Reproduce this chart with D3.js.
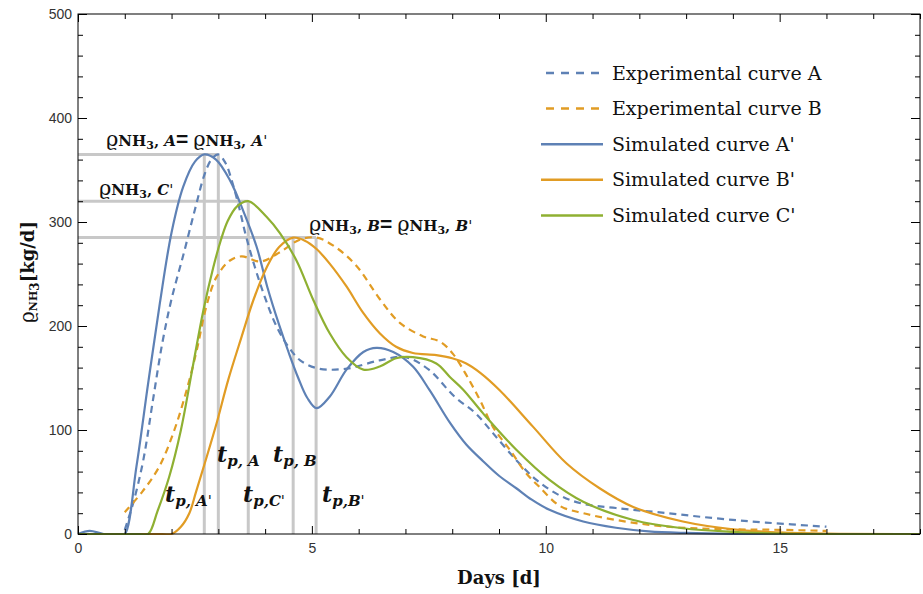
<!DOCTYPE html>
<html><head><meta charset="utf-8">
<script src="https://cdn.jsdelivr.net/npm/d3@7"></script>
<style>body{margin:0;background:#fff} svg{display:block}</style>
</head><body>
<svg id="chart" width="923" height="594"></svg>
<script>
// ---------- data ----------
const xMajorTicks = [0, 5, 10, 15];
const yMajorTicks = [0, 100, 200, 300, 400, 500];

const expA = [[1.0,4],[1.2,33],[1.4,72],[1.6,128],[1.8,183],[2.0,226],[2.25,268],[2.5,312],[2.7,345],[2.85,360],[3.0,365],[3.15,357],[3.3,338],[3.45,313],[3.6,285],[3.9,240],[4.25,199],[4.5,180],[4.75,167],[5.15,159],[5.75,159],[6.45,167],[7.0,170],[7.5,158],[8.05,132],[8.5,116],[8.87,97],[9.37,71],[9.8,52],[10.3,37],[10.8,29],[11.5,25],[12.6,20],[13.65,15],[14.7,11],[16.0,7]];
const expB = [[1.0,21],[1.38,41],[1.74,65],[2.06,100],[2.32,138],[2.54,177],[2.75,220],[2.96,247],[3.25,263],[3.5,267],[3.9,262],[4.32,271],[4.74,283],[5.1,285],[5.5,276],[5.95,258],[6.45,226],[6.88,203],[7.38,190],[7.74,185],[8.02,173],[8.3,153],[8.59,129],[8.87,103],[9.23,81],[9.59,58],[9.87,45],[10.3,27],[10.8,20],[11.5,13.5],[12.6,7],[14.0,4.5],[15.0,4],[16.0,3]];
const simA = [[0,0],[0.25,3],[0.55,0],[0.9,0],[1.0,0],[1.25,65],[1.5,145],[1.75,222],[2.0,290],[2.25,334],[2.5,358],[2.7,365],[2.95,360],[3.25,340],[3.53,311],[3.82,276],[4.05,237],[4.3,201],[4.5,175],[4.7,151],[4.9,131],[5.1,121],[5.38,132],[5.74,158],[6.1,175],[6.38,179],[6.74,175],[7.16,161],[7.52,138],[7.95,107],[8.3,86],[8.66,70],[9.0,56],[9.37,44],[9.7,33],[10.09,23],[10.8,12],[11.5,6],[12.2,2.5],[13.0,1],[14.0,0.2],[18.0,0]];
const simB = [[0,0],[1.8,0],[2.0,0],[2.2,7],[2.38,20],[2.52,40],[2.71,68],[2.96,106],[3.21,148],[3.5,190],[3.75,225],[4.03,256],[4.3,276],[4.6,285],[4.85,282],[5.1,274],[5.38,260],[5.74,238],[6.09,213],[6.45,193],[6.8,180],[7.16,174],[7.66,172],[8.0,169],[8.3,164],[8.6,155],[9.02,138],[9.73,103],[10.44,68],[11.15,44],[11.87,26],[12.93,12],[14.0,4.5],[15.0,1.5],[16.0,0.3],[18.0,0]];
const simC = [[0,0],[1.3,0],[1.5,0],[1.7,22],[1.95,55],[2.2,100],[2.45,160],[2.68,215],[2.89,256],[3.05,282],[3.2,301],[3.4,315],[3.64,320],[4.03,305],[4.32,289],[4.67,263],[5.03,225],[5.38,193],[5.74,170],[6.1,158],[6.45,161],[6.8,169],[7.16,170],[7.66,164],[7.95,151],[8.23,139],[8.66,116],[9.37,81],[10.08,52],[10.8,31],[11.87,13.5],[12.93,5.5],[14.0,2],[15.0,0.5],[18.0,0]];

const seriesNames = ["Experimental curve A", "Experimental curve B", "Simulated curve A'", "Simulated curve B'", "Simulated curve C'"];
const seriesData = [expA, expB, simA, simB, simC];
const seriesColors = ["#5E81B5", "#E19C24", "#5E81B5", "#E19C24", "#8FB032"];
const seriesDashed = [true, true, false, false, false];

// peak reference values: [time of peak, peak value]
const peakTimes = [2.7, 3.0, 3.64, 4.6, 5.09];
const peakValues = [365, 365, 320, 285, 285];

// ---------- chart ----------
const svg = d3.select("#chart");
const x = d3.scaleLinear().domain([0, 18]).range([78, 920]);
const y = d3.scaleLinear().domain([0, 500]).range([534, 14]);

const serif = "'DejaVu Serif', 'Liberation Serif', serif";
const sans = "'Liberation Sans', Arial, sans-serif";

// reference grey lines
const refG = svg.append("g").attr("stroke", "#C8C8C8").attr("stroke-width", 3).attr("fill", "none");
const levels = Array.from(new Set(peakValues));
levels.forEach(v => {
  const tMax = d3.max(peakTimes.filter((t, i) => peakValues[i] === v));
  refG.append("line").attr("x1", x(0)).attr("x2", x(tMax)).attr("y1", y(v)).attr("y2", y(v));
});
peakTimes.forEach((t, i) => {
  refG.append("line").attr("x1", x(t)).attr("x2", x(t)).attr("y1", y(peakValues[i])).attr("y2", y(0));
});

// curves
const line = d3.line().x(d => x(d[0])).y(d => y(d[1])).curve(d3.curveCatmullRom.alpha(0.5));
svg.append("clipPath").attr("id", "clip").append("rect")
  .attr("x", x(0)).attr("y", y(500)).attr("width", x(18) - x(0)).attr("height", y(0) - y(500) + 1);
const curvesG = svg.append("g").attr("clip-path", "url(#clip)");
seriesData.forEach((d, i) => {
  curvesG.append("path").datum(d).attr("d", line)
    .attr("fill", "none").attr("stroke", seriesColors[i]).attr("stroke-width", 2.2)
    .attr("stroke-dasharray", seriesDashed[i] ? "7,5" : null);
});

// axes (ticks inside frame)
function styleAxis(g) {
  g.select(".domain").remove();
  g.selectAll(".tick line").attr("stroke", "#000").attr("stroke-width", 1);
  g.selectAll(".tick text").attr("font-family", sans).attr("font-size", 14).attr("fill", "#333");
}
const xMinor = d3.range(0, 19, 1).filter(v => !xMajorTicks.includes(v));
const yMinor = d3.range(0, 501, 20).filter(v => !yMajorTicks.includes(v));

svg.append("g").attr("transform", `translate(0,${y(0)})`)
  .call(d3.axisBottom(x).tickValues(xMinor).tickSize(-5).tickFormat(""))
  .call(styleAxis);
svg.append("g").attr("transform", `translate(0,${y(0)})`)
  .call(d3.axisBottom(x).tickValues(xMajorTicks).tickSize(-8).tickPadding(9).tickFormat(d3.format("d")))
  .call(styleAxis);
svg.append("g").attr("transform", `translate(0,${y(500)})`)
  .call(d3.axisTop(x).tickValues(xMinor).tickSize(-5).tickFormat(""))
  .call(styleAxis);
svg.append("g").attr("transform", `translate(0,${y(500)})`)
  .call(d3.axisTop(x).tickValues(xMajorTicks).tickSize(-8).tickFormat(""))
  .call(styleAxis);

svg.append("g").attr("transform", `translate(${x(0)},0)`)
  .call(d3.axisLeft(y).tickValues(yMinor).tickSize(-5).tickFormat(""))
  .call(styleAxis);
svg.append("g").attr("transform", `translate(${x(0)},0)`)
  .call(d3.axisLeft(y).tickValues(yMajorTicks).tickSize(-9).tickPadding(6).tickFormat(d3.format("d")))
  .call(styleAxis);
svg.append("g").attr("transform", `translate(${x(18)},0)`)
  .call(d3.axisRight(y).tickValues(yMinor).tickSize(-5).tickFormat(""))
  .call(styleAxis);
svg.append("g").attr("transform", `translate(${x(18)},0)`)
  .call(d3.axisRight(y).tickValues(yMajorTicks).tickSize(-9).tickFormat(""))
  .call(styleAxis);

// frame
svg.append("rect").attr("x", x(0)).attr("y", y(500)).attr("width", x(18) - x(0)).attr("height", y(0) - y(500))
  .attr("fill", "none").attr("stroke", "#000").attr("stroke-width", 1);

// rich text helper
function rich(parent, px, py, segs, anchor) {
  const t = parent.append("text").attr("x", px).attr("y", py)
    .attr("font-family", serif).attr("font-weight", "bold").attr("fill", "#111")
    .attr("text-anchor", anchor || "start");
  let prevShift = 0;
  segs.forEach(s => {
    const shift = s.shift || 0;
    const ts = t.append("tspan").text(s.t).attr("font-size", s.size)
      .attr("dy", shift - prevShift);
    if (s.italic) ts.attr("font-style", "italic");
    if (s.normal) ts.attr("font-weight", "normal");
    if (s.family) ts.attr("font-family", s.family);
    prevShift = shift;
  });
  return t;
}
function rhoSegs(sub, prime) {
  const segs = [
    { t: "ϱ", size: 21, normal: true },
    { t: "NH", size: 15 },
    { t: "3", size: 11, shift: 3 },
    { t: ", ", size: 15, shift: 0 },
    { t: sub, size: 15, italic: true }
  ];
  if (prime) segs.push({ t: "'", size: 15, normal: true });
  return segs;
}
const eq = { t: "=", size: 21, family: sans };
const annG = svg.append("g");
rich(annG, 106, 146, [...rhoSegs("A"), eq, { t: " ", size: 14 }, ...rhoSegs("A", true)]);
rich(annG, 99, 195, rhoSegs("C", true));
rich(annG, 309, 231, [...rhoSegs("B"), eq, { t: " ", size: 14 }, ...rhoSegs("B", true)]);

function tpSegs(sub, prime, comma) {
  const segs = [
    { t: "t", size: 22, italic: true },
    { t: "p" + (comma ? ", " : ","), size: 15, italic: true, shift: 4 },
    { t: sub, size: 15, italic: true, shift: 4 }
  ];
  if (prime) segs.push({ t: "'", size: 15, normal: true, shift: 4 });
  return segs;
}
rich(annG, 217, 462, tpSegs("A", false, true));
rich(annG, 273, 462, tpSegs("B", false, true));
rich(annG, 165, 502, tpSegs("A", true, true));
rich(annG, 243, 502, tpSegs("C", true, false));
rich(annG, 322, 502, tpSegs("B", true, false));

// axis titles
rich(svg, x(9), 584, [{ t: "Days [d]", size: 18 }], "middle");
const yl = svg.append("g").attr("transform", "translate(34,272) rotate(-90)");
rich(yl, 0, 0, [
  { t: "ϱ", size: 20, normal: true },
  { t: "NH", size: 11, shift: 3 },
  { t: "3", size: 12, shift: 5 },
  { t: "[kg/d]", size: 18, shift: 0 }
], "middle");

// legend
const legG = svg.append("g");
const legY0 = 73, legDy = 35.6;
seriesNames.forEach((name, i) => {
  const ly = legY0 + i * legDy;
  legG.append("line")
    .attr("x1", seriesDashed[i] ? 546 : 541).attr("x2", seriesDashed[i] ? 601 : 603)
    .attr("y1", ly).attr("y2", ly)
    .attr("stroke", seriesColors[i]).attr("stroke-width", 2.5)
    .attr("stroke-dasharray", seriesDashed[i] ? "8,7" : null);
  legG.append("text").attr("x", 612).attr("y", ly + 6.5)
    .attr("font-family", serif).attr("font-size", 19).attr("fill", "#111").text(name);
});
</script>
</body></html>
